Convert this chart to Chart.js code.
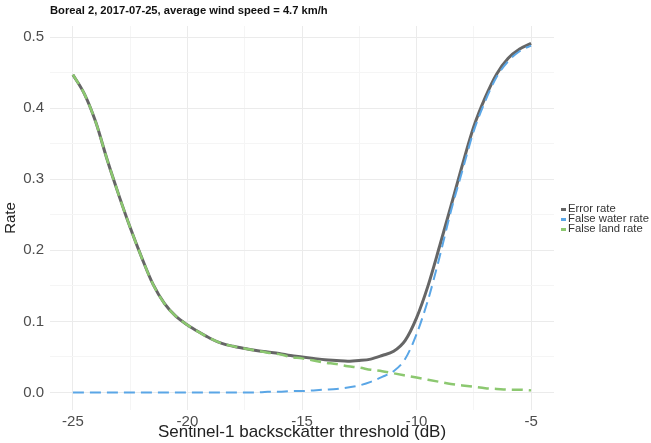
<!DOCTYPE html>
<html>
<head>
<meta charset="utf-8">
<script src="https://cdn.jsdelivr.net/npm/chart.js@4.4.0/dist/chart.umd.min.js"></script>
<style>
  html, body { margin:0; padding:0; background:#fff; }
  #wrap { position:relative; width:651px; height:443px; font-family:"Liberation Sans", Arial, sans-serif; }
  #title { position:absolute; left:50px; top:4px; font-size:11.2px; font-weight:bold; color:#111; white-space:nowrap; }
  #legend { position:absolute; left:561px; top:203px; font-size:11.3px; color:#333; line-height:10px; }
  #legend div { white-space:nowrap; }
  #legend span.key { display:inline-block; width:5px; height:3px; margin-right:2px; vertical-align:middle; }
</style>
</head>
<body>
<div id="wrap">
  <canvas id="chart" width="651" height="443"></canvas>
  <div id="title">Boreal 2, 2017-07-25, average wind speed = 4.7 km/h</div>
  <div id="legend"></div>
</div>
<script>
// data
const thresholds = [-25,-24.5,-24,-23.5,-23,-22.5,-22,-21.5,-21,-20.5,-20,-19.5,-19,-18.5,-18,-17.5,-17,-16.5,-16,-15.5,-15,-14.5,-14,-13.5,-13,-12.5,-12,-11.5,-11,-10.5,-10,-9.5,-9,-8.5,-8,-7.5,-7,-6.5,-6,-5.5,-5];
const errorRate = [0.447,0.42,0.38,0.327,0.278,0.232,0.19,0.152,0.125,0.107,0.095,0.085,0.076,0.069,0.065,0.062,0.059,0.057,0.055,0.052,0.05,0.048,0.046,0.045,0.044,0.045,0.047,0.052,0.058,0.073,0.105,0.15,0.205,0.262,0.32,0.374,0.415,0.448,0.47,0.483,0.491];
const falseWater = [0,0,0,0,0,0,0,0,0,0,0,0,0,0,0,0,0,0.001,0.001,0.002,0.002,0.003,0.004,0.005,0.007,0.01,0.015,0.022,0.03,0.047,0.082,0.13,0.19,0.255,0.312,0.368,0.41,0.444,0.466,0.48,0.488];
const falseLand = [0.447,0.42,0.38,0.327,0.278,0.232,0.19,0.152,0.125,0.107,0.095,0.085,0.076,0.069,0.065,0.062,0.059,0.056,0.054,0.05,0.048,0.045,0.042,0.04,0.037,0.035,0.032,0.03,0.027,0.024,0.021,0.018,0.015,0.012,0.01,0.008,0.006,0.005,0.004,0.004,0.003];
const seriesNames = ["Error rate", "False water rate", "False land rate"];
const seriesColors = ["#666666", "#5aa6e6", "#8cc870"];
const xTicks = [-25,-20,-15,-10,-5];
const yTicks = [0,0.1,0.2,0.3,0.4,0.5];

function pts(arr){ return thresholds.map((x,i) => ({x:x, y:arr[i]})); }

// minor grid positions (ggplot style)
const minorX = [];
for (let v = -25; v <= -5; v += 2.5) minorX.push(v);
const minorY = [];
for (let v = 0; v <= 0.5001; v += 0.05) minorY.push(+v.toFixed(2));

function isMajor(v, list){ return list.some(t => Math.abs(t - v) < 1e-6); }

const ctx = document.getElementById("chart").getContext("2d");
const chart = new Chart(ctx, {
  type: "line",
  data: {
    datasets: [
      { label: seriesNames[0], data: pts(errorRate), borderColor: seriesColors[0], borderWidth: 3, order: 3 },
      { label: seriesNames[1], data: pts(falseWater), borderColor: seriesColors[1], borderWidth: 2, borderDash: [11,6], order: 2 },
      { label: seriesNames[2], data: pts(falseLand), borderColor: seriesColors[2], borderWidth: 2.5, borderDash: [11,6], order: 1 }
    ]
  },
  options: {
    responsive: false,
    animation: false,
    layout: { padding: { top: 26, right: 97, left: 0, bottom: 0 } },
    elements: { point: { radius: 0 }, line: { cubicInterpolationMode: "monotone", fill: false } },
    plugins: { legend: { display: false }, title: { display: false }, tooltip: { enabled: false } },
    scales: {
      x: {
        type: "linear",
        min: -26, max: -4,
        afterBuildTicks: s => { s.ticks = minorX.map(v => ({ value: v })); },
        afterFit: s => { s.height = 33; },
        border: { display: false },
        grid: { drawTicks: false, color: c => isMajor(c.tick.value, xTicks) ? "#ebebeb" : "#f5f5f5" },
        ticks: {
          padding: 3, maxRotation: 0, autoSkip: false, color: "#4d4d4d",
          font: { family: "Liberation Sans", size: 15 },
          callback: v => isMajor(v, xTicks) ? String(v) : ""
        },
        title: { display: true, text: "Sentinel-1 backsckatter threshold (dB)", color: "#222", padding: { top: -4, bottom: 0 }, font: { family: "Liberation Sans", size: 17 } }
      },
      y: {
        min: -0.0246, max: 0.5155,
        afterBuildTicks: s => { s.ticks = minorY.map(v => ({ value: v })); },
        afterFit: s => { s.width = 50; },
        border: { display: false },
        grid: { drawTicks: false, color: c => isMajor(c.tick.value, yTicks) ? "#ebebeb" : "#f5f5f5" },
        ticks: {
          padding: 6, autoSkip: false, color: "#4d4d4d",
          font: { family: "Liberation Sans", size: 15 },
          callback: v => isMajor(v, yTicks) ? v.toFixed(1) : ""
        },
        title: { display: true, text: "Rate", color: "#222", padding: { top: 2, bottom: 2 }, font: { family: "Liberation Sans", size: 15 } }
      }
    }
  }
});

// legend as html
const legendBox = document.getElementById("legend");
seriesNames.forEach((name, i) => {
  const row = document.createElement("div");
  row.innerHTML = '<span class="key" style="background:' + seriesColors[i] + '"></span>' + name;
  legendBox.appendChild(row);
});
</script>
</body>
</html>
